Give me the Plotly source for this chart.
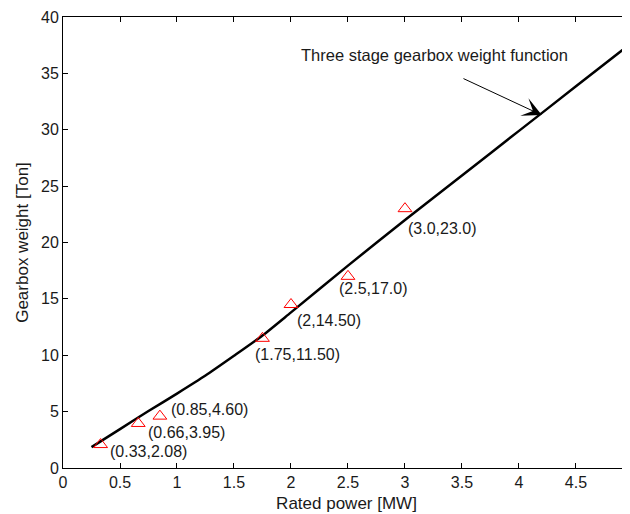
import plotly.graph_objects as go

# Weight function curve (Rated power [MW] -> Gearbox weight [Ton])
curve_power = [0.25, 0.5, 0.75, 1.0, 1.25, 1.5, 1.75, 2.0, 2.5, 3.0, 3.5, 4.0, 4.5, 5.0]
curve_weight = [1.85, 3.45, 5.05, 6.6, 8.2, 9.95, 11.75, 13.8, 17.95, 22.0, 25.95, 29.9, 33.85, 37.8]

# Data points
point_power = [0.33, 0.66, 0.85, 1.75, 2.0, 2.5, 3.0]
point_weight = [2.08, 3.95, 4.60, 11.50, 14.50, 17.0, 23.0]
point_labels = ["(0.33,2.08)", "(0.66,3.95)", "(0.85,4.60)", "(1.75,11.50)",
                "(2,14.50)", "(2.5,17.0)", "(3.0,23.0)"]

# label pixel offsets (layout)
label_dx = [7, 8, 9, -9, 4, -11, 1]
label_dy = [-7, -9, 7, -16, -16, -12, -20]

x_ticks = [0, 0.5, 1, 1.5, 2, 2.5, 3, 3.5, 4, 4.5]
y_ticks = [0, 5, 10, 15, 20, 25, 30, 35, 40]

XMAX = 4.974
FONT = "Liberation Sans, Arial, sans-serif"
TXT = "#1a1a1a"

fig = go.Figure()
fig.add_trace(go.Scatter(x=curve_power, y=curve_weight, mode="lines", line_shape="spline",
                         line=dict(color="black", width=2.5, smoothing=0.6), hoverinfo="skip"))
fig.add_trace(go.Scatter(x=point_power, y=point_weight, mode="markers",
                         marker=dict(symbol="triangle-up-open", size=12,
                                     color="#ff0000", line=dict(width=1, color="#ff0000"))))

for px, py, t, dx, dy in zip(point_power, point_weight, point_labels, label_dx, label_dy):
    fig.add_annotation(x=px, y=py, text=t, showarrow=False, xanchor="left", yanchor="middle",
                       xshift=dx, yshift=dy, font=dict(size=16, color=TXT, family=FONT))

# arrow pointing to curve
fig.add_annotation(x=4.2, y=31.3, ax=3.5, ay=34.6, axref="x", ayref="y", xref="x", yref="y",
                   text="", showarrow=True, arrowhead=3, arrowsize=3.2, arrowwidth=1,
                   arrowcolor="black", standoff=0)
fig.add_annotation(x=2.07, y=36.6, text="Three stage gearbox weight function", showarrow=False,
                   xanchor="left", yanchor="middle", font=dict(size=16.5, color=TXT, family=FONT))

# partially visible last tick label
fig.add_annotation(x=5 / XMAX, y=0, xref="paper", yref="paper", text="5", showarrow=False,
                   xanchor="center", yanchor="middle", yshift=-14,
                   font=dict(size=16, color=TXT, family=FONT))

# page body has an 8px margin, so the figure is sized to end at the window edge
fig.update_layout(
    width=622, height=506,
    margin=dict(l=55, r=0, t=9, b=46),
    plot_bgcolor="white", paper_bgcolor="white",
    showlegend=False,
    font=dict(family=FONT, color=TXT, size=16),
)
fig.update_xaxes(range=[0, XMAX], tickvals=x_ticks, ticks="inside", ticklen=5, tickcolor="black",
                 showline=True, linecolor="black", linewidth=1, mirror="ticks", showgrid=False,
                 zeroline=False, tickfont=dict(size=16), automargin=False,
                 title=dict(text="Rated power [MW]", font=dict(size=17), standoff=6))
fig.update_yaxes(range=[0, 40], tickvals=y_ticks, ticks="inside", ticklen=5, tickcolor="black",
                 showline=True, linecolor="black", linewidth=1, mirror="ticks", showgrid=False,
                 zeroline=False, tickfont=dict(size=16), automargin=False,
                 title=dict(text="Gearbox weight [Ton]", font=dict(size=17), standoff=8))

fig.write_html("out.html")
